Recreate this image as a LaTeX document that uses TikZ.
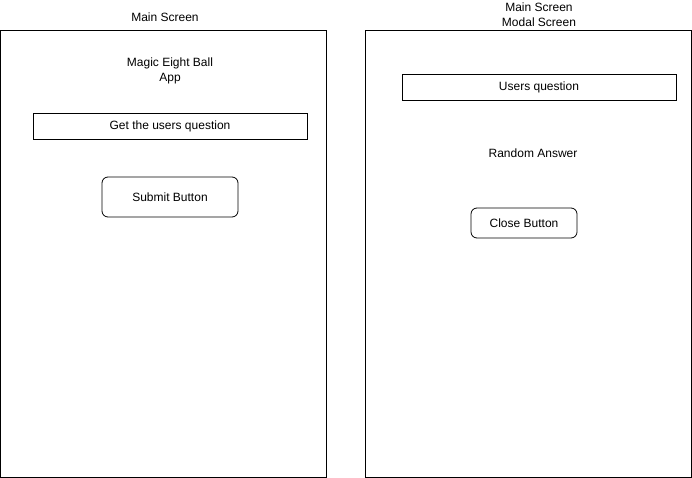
\documentclass[tikz,border=0pt]{standalone}
\usepackage{fontspec}
\setmainfont{Liberation Sans}
\begin{document}
\begin{tikzpicture}[x=1pt, y=-1pt,
    screen/.style={draw, line width=0.8pt, minimum width=326pt, minimum height=447pt, inner sep=0pt},
    field/.style={draw, line width=0.8pt, minimum width=274pt, minimum height=26pt, inner sep=0pt},
    button/.style={draw, line width=0.8pt, rounded corners=6pt, inner sep=0pt},
    label/.style={align=center, inner sep=0pt}]
  \useasboundingbox (0,0) rectangle (692,478);
  \fontsize{12}{15}\selectfont
  % Main screen
  \node[screen] (mainscreen) at (163.5,253.5) {};
  \node[label] (maintitle) at (165,17) {Main Screen};
  \node[label] (apptitle) at (170,71) {Magic Eight Ball\\App};
  \node[field] (question) at (170,126) {Get the users question};
  \node[button, minimum width=136pt, minimum height=40pt] (submit) at (170,197) {Submit Button};
  % Modal screen
  \node[screen] (modalscreen) at (528,253.5) {};
  \node[label] (modaltitle) at (539,15) {Main Screen\\Modal Screen};
  \node[field] (userquestion) at (539,87) {Users question};
  \node[label] (answer) at (533,153) {Random Answer};
  \node[button, minimum width=106pt, minimum height=30pt] (close) at (524,223) {Close Button};
\end{tikzpicture}
\end{document}
